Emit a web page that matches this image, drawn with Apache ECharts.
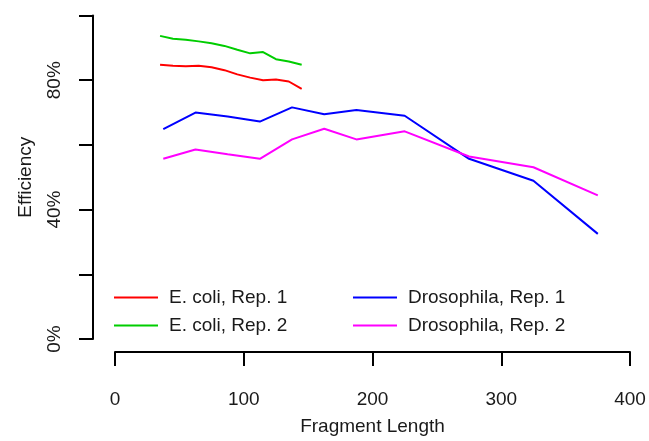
<!DOCTYPE html>
<html><head><meta charset="utf-8">
<script src="https://cdn.jsdelivr.net/npm/echarts@6/dist/echarts.min.js"></script>
<style>html,body{margin:0;padding:0;background:#fff}#c{width:649px;height:441px}</style>
</head><body><div id="c"></div>
<script>
// Data
const ecoliLength = [35, 45, 55, 65, 75, 85, 95, 105, 115, 125, 135, 145];
const ecoliRep1 = [84.8, 84.5, 84.3, 84.5, 84.0, 83.1, 81.8, 80.8, 80.0, 80.2, 79.6, 77.3];
const ecoliRep2 = [93.7, 92.8, 92.5, 92.0, 91.4, 90.6, 89.4, 88.3, 88.7, 86.5, 85.8, 84.8];
const drosoLength = [37.5, 62.5, 87.5, 112.5, 137.5, 162.5, 187.5, 225, 275, 325, 375];
const drosoRep1 = [64.9, 70.0, 68.8, 67.2, 71.6, 69.5, 70.8, 69.0, 55.7, 48.9, 32.5];
const drosoRep2 = [55.7, 58.6, 57.1, 55.7, 61.7, 65.0, 61.7, 64.2, 56.4, 53.1, 44.4];
const seriesNames = ['E. coli, Rep. 1', 'E. coli, Rep. 2', 'Drosophila, Rep. 1', 'Drosophila, Rep. 2'];
const xTicks = [0, 100, 200, 300, 400];
const yTicks = [0, 20, 40, 60, 80, 100];
const yTickLabels = {0: '0%', 40: '40%', 80: '80%'};

const FONT = 'Liberation Sans, Arial, Helvetica, sans-serif';
const FS = 19;
const pairs = (xs, ys) => xs.map((x, i) => [x, ys[i]]);
const colors = ['#FF0000', '#00CD00', '#0000FF', '#FF00FF'];
const datasets = [pairs(ecoliLength, ecoliRep1), pairs(ecoliLength, ecoliRep2),
                  pairs(drosoLength, drosoRep1), pairs(drosoLength, drosoRep2)];

const chart = echarts.init(document.getElementById('c'), null, {renderer: 'canvas'});
const legendCommon = {
  orient: 'vertical', itemWidth: 44, itemHeight: 2, itemGap: 9, icon: 'rect', padding: 0,
  textStyle: {fontFamily: FONT, fontSize: FS, color: '#1a1a1a', lineHeight: 19, padding: [0, 0, 0, 6]},
  selectedMode: false
};
chart.setOption({
  animation: false,
  backgroundColor: '#fff',
  grid: {left: 115, right: 19, top: 15.5, bottom: 99, containLabel: false},
  xAxis: {
    type: 'value', min: 0, max: 400, interval: 100, offset: 13,
    name: 'Fragment Length', nameLocation: 'middle', nameGap: 65,
    nameTextStyle: {fontFamily: FONT, fontSize: FS, color: '#1a1a1a'},
    axisLine: {show: true, onZero: false, lineStyle: {color: '#000', width: 2}},
    axisTick: {show: true, length: 14, lineStyle: {color: '#000', width: 2}},
    axisLabel: {fontFamily: FONT, fontSize: FS, color: '#1a1a1a', margin: 38,
      formatter: v => xTicks.includes(v) ? String(v) : ''},
    splitLine: {show: false}
  },
  yAxis: {
    type: 'value', min: 0, max: 100, interval: 20, offset: 22,
    name: 'Efficiency', nameLocation: 'middle', nameGap: 58, nameRotate: 90,
    nameTextStyle: {fontFamily: FONT, fontSize: FS, color: '#1a1a1a'},
    axisLine: {show: true, onZero: false, lineStyle: {color: '#000', width: 2}},
    axisTick: {show: true, length: 14, lineStyle: {color: '#000', width: 2}},
    axisLabel: {fontFamily: FONT, fontSize: FS, color: '#1a1a1a', margin: 29, rotate: 90,
      formatter: v => (yTicks.includes(v) && yTickLabels[v]) ? yTickLabels[v] : ''},
    splitLine: {show: false}
  },
  legend: [
    Object.assign({left: 114, top: 288, data: seriesNames.slice(0, 2)}, legendCommon),
    Object.assign({left: 353, top: 288, data: seriesNames.slice(2, 4)}, legendCommon)
  ],
  series: seriesNames.map((n, i) => ({
    name: n, type: 'line', data: datasets[i], symbol: 'none', color: colors[i],
    lineStyle: {width: 2, color: colors[i]}
  }))
});
</script></body></html>
